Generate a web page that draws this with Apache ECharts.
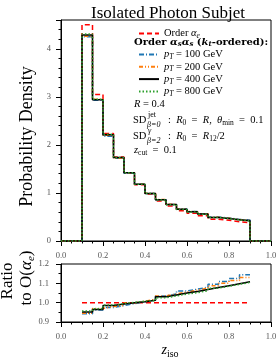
<!DOCTYPE html>
<html><head><meta charset="utf-8">
<script src="https://cdn.jsdelivr.net/npm/echarts@6/dist/echarts.min.js"></script>
<style>html,body{margin:0;padding:0;background:#fff}#c{width:280px;height:360px}</style>
</head><body><div id="c"></div>
<script>
// ---- data ----
const binEdges = [0.10,0.15,0.20,0.25,0.30,0.35,0.40,0.45,0.50,0.55,0.60,0.65,0.70,0.75,0.80,0.85,0.90];
const xTicks = [0.0,0.2,0.4,0.6,0.8,1.0];
const seriesNames = ['Order αe','pT = 100 GeV','pT = 200 GeV','pT = 400 GeV','pT = 800 GeV'];
const densOrderAe = [4.50,3.05,2.24,1.75,1.42,1.17,0.98,0.835,0.73,0.63,0.577,0.524,0.455,0.432,0.40,0.379];
const densPt100  = [4.25,2.93,2.18,1.72,1.41,1.18,0.99,0.86,0.76,0.665,0.615,0.565,0.50,0.48,0.45,0.435];
const densPt200  = [4.26,2.95,2.20,1.72,1.42,1.18,0.995,0.865,0.765,0.665,0.615,0.565,0.495,0.475,0.445,0.43];
const densPt400  = [4.29,2.94,2.21,1.74,1.42,1.18,0.99,0.86,0.76,0.66,0.61,0.56,0.49,0.47,0.44,0.42];
const densPt800  = [4.31,2.95,2.22,1.74,1.42,1.18,0.99,0.855,0.755,0.655,0.605,0.555,0.49,0.468,0.438,0.418];
const ratioOrderAe = [1,1,1,1,1,1,1,1,1,1,1,1,1,1,1,1];
const ratioPt100 = [0.943,0.962,0.975,0.985,0.995,1.005,1.015,1.035,1.045,1.06,1.07,1.08,1.095,1.11,1.125,1.145];
const ratioPt200 = [0.945,0.970,0.980,0.985,0.998,1.008,1.018,1.035,1.045,1.055,1.065,1.075,1.088,1.10,1.115,1.13];
const ratioPt400 = [0.952,0.965,0.985,0.993,1.000,1.005,1.012,1.030,1.040,1.050,1.058,1.068,1.078,1.088,1.098,1.108];
const ratioPt800 = [0.957,0.968,0.988,0.995,1.002,1.008,1.010,1.025,1.035,1.045,1.052,1.062,1.075,1.085,1.095,1.105];

// ---- helpers ----
const FONT = 'Liberation Serif';
function stepMain(vals){
  const d = [[0,0]];
  vals.forEach((v,i)=>d.push([binEdges[i], v]));
  d.push([binEdges[binEdges.length-1], vals[vals.length-1]]);
  d.push([binEdges[binEdges.length-1], 0]);
  d.push([1, 0]);
  return d;
}
function stepRatio(vals){
  const d = [];
  vals.forEach((v,i)=>d.push([binEdges[i], v]));
  d.push([binEdges[binEdges.length-1], vals[vals.length-1]]);
  return d;
}
const styles = [
  {color:'#ff0000', type:[5,3], width:1.5},
  {color:'#1f77b4', type:[5,2,1,2], width:1.5},
  {color:'#ff7f0e', type:[4,2,1,2,1,2], width:1.5},
  {color:'#000000', type:'solid', width:1.5},
  {color:'#2ca02c', type:[1.5,2], width:1.5}
];
const mainVals = [densOrderAe,densPt100,densPt200,densPt400,densPt800];
const ratioVals = [ratioOrderAe,ratioPt100,ratioPt200,ratioPt400,ratioPt800];

const series = [];
mainVals.forEach((v,i)=>series.push({
  name: seriesNames[i], type:'line', step:'end', xAxisIndex:0, yAxisIndex:0,
  data: stepMain(v), symbol:'none', lineStyle: styles[i], color: styles[i].color, animation:false
}));
ratioVals.forEach((v,i)=>series.push({
  name: seriesNames[i]+' r', type:'line', step:'end', xAxisIndex:1, yAxisIndex:2,
  data: stepRatio(v), symbol:'none', lineStyle: styles[i], color: styles[i].color, animation:false
}));

const FS = 10.5;
const baseText = {fontFamily:FONT, fontSize:FS, color:'#000'};
const rich = {
  t:{fontFamily:FONT, fontSize:FS, color:'#000'},
  i:{fontFamily:FONT, fontSize:FS, fontStyle:'italic', color:'#000'},
  s:{fontFamily:FONT, fontSize:7.5, fontStyle:'italic', color:'#000', padding:[5,0,0,0]},
  sn:{fontFamily:FONT, fontSize:7.5, color:'#000', padding:[5,0,0,0]},
  b:{fontFamily:'DejaVu Serif', fontSize:10, fontWeight:'bold', color:'#000'},
  bi:{fontFamily:'DejaVu Serif', fontSize:10, fontWeight:'bold', fontStyle:'italic', color:'#000'},
  bs:{fontFamily:'DejaVu Serif', fontSize:7, fontWeight:'bold', fontStyle:'italic', color:'#000', padding:[5,0,0,0]}
};
function legendFmt(name){
  if(name==='Order αe') return '{t|Order }{i|α}{s|e}';
  const m = name.match(/= (\d+) GeV/);
  return '{i|p}{s|T}{t| = '+m[1]+' GeV}';
}
function xLab(v){ return xTicks.some(t=>Math.abs(t-v)<1e-6) ? v.toFixed(1) : ''; }
function intLab(v){ return Math.abs(v-Math.round(v))<1e-6 ? String(Math.round(v)) : ''; }

const axisLineStyle = {color:'#000', width:1};
const labStyle = {fontFamily:FONT, fontSize:8.5, color:'#555'};
const legendCommon = {orient:'vertical', itemWidth:20, itemHeight:10,
  formatter:legendFmt, textStyle:{...baseText, rich:rich},
  itemStyle:{opacity:0, borderWidth:0}, inactiveColor:'#000'};

const option = {
  animation:false,
  title:{text:'Isolated Photon Subjet', left:86, top:0,
    textStyle:{fontFamily:FONT, fontSize:17, fontWeight:'normal', color:'#000'}},
  grid:[
    {left:61, right:9, top:20, height:221, show:true, borderColor:'#000', borderWidth:1, backgroundColor:'transparent'},
    {left:61, right:9, top:264, height:58, show:true, borderColor:'#000', borderWidth:1, backgroundColor:'transparent'}
  ],
  xAxis:[
    {type:'value', gridIndex:0, min:0, max:1, interval:0.2,
     axisLine:{show:true, onZero:false, lineStyle:axisLineStyle},
     axisTick:{show:true, length:5, lineStyle:axisLineStyle},
     minorTick:{show:true, splitNumber:4, length:2.5, lineStyle:{color:'#000'}},
     axisLabel:{...labStyle, margin:10, formatter:xLab},
     splitLine:{show:false}},
    {type:'value', gridIndex:1, min:0, max:1, interval:0.2,
     axisLine:{show:true, onZero:false, lineStyle:axisLineStyle},
     axisTick:{show:true, length:5, lineStyle:axisLineStyle},
     minorTick:{show:true, splitNumber:4, length:2.5, lineStyle:{color:'#000'}},
     axisLabel:{...labStyle, margin:10, formatter:xLab},
     splitLine:{show:false},
     name:'{i|z}{sn|iso}', nameLocation:'middle', nameGap:20,
     nameTextStyle:{padding:[0,0,0,8], rich:{i:{fontFamily:FONT,fontSize:14,fontStyle:'italic',color:'#000'},
                          sn:{fontFamily:FONT,fontSize:10,color:'#000',padding:[7,0,0,0]}}}}
  ],
  yAxis:[
    {type:'value', gridIndex:0, position:'left', min:0, max:4.6, interval:1,
     axisLine:{show:true, onZero:false, lineStyle:axisLineStyle},
     axisTick:{show:true, length:5, lineStyle:axisLineStyle},
     axisLabel:{...labStyle, margin:10, formatter:intLab},
     splitLine:{show:false},
     name:'Probability Density', nameLocation:'middle', nameGap:17,
     nameTextStyle:{fontFamily:FONT, fontSize:18, color:'#000', padding:[0,12,0,0]}},
    {type:'value', gridIndex:0, position:'left', offset:0, min:0, max:4.6, interval:0.2,
     axisLine:{show:false}, axisTick:{show:true, length:2.5, lineStyle:{color:'#000'}},
     axisLabel:{show:false}, splitLine:{show:false}},
    {type:'value', gridIndex:1, position:'left', min:0.9, max:1.2, interval:0.1,
     axisLine:{show:true, onZero:false, lineStyle:axisLineStyle},
     axisTick:{show:true, length:5, lineStyle:axisLineStyle},
     minorTick:{show:true, splitNumber:2, length:2.5, lineStyle:{color:'#000'}},
     axisLabel:{...labStyle, margin:12, formatter:v=>v.toFixed(1)},
     splitLine:{show:false}}
  ],
  legend:[
    {...legendCommon, data:[seriesNames[0]], left:133, top:23, itemGap:2},
    {...legendCommon, data:seriesNames.slice(1), left:133, top:44, itemGap:0.3}
  ],
  graphic:[
    {type:'text', left:134, top:37, style:{text:'{b|Order }{bi|α}{bs|s}{bi|α}{bs|s}{b| (}{bi|k}{bs|t}{b|-ordered):}', rich:rich}},
    {type:'text', left:134, top:99, style:{text:'{i|R}{t| = 0.4}', rich:rich}},
    {type:'text', left:133, top:115, style:{text:'{t|SD}', rich:rich}},
    {type:'text', left:148, top:111, style:{text:'jet', fontFamily:FONT, fontSize:8, fill:'#000'}},
    {type:'text', left:147, top:121, style:{text:'β=0', fontFamily:FONT, fontSize:8, fill:'#000', fontStyle:'italic'}},
    {type:'text', left:168, top:115, style:{text:'{t|:  }{i|R}{sn|0}{t|  =  }{i|R}{t|,  }{i|θ}{sn|min}{t|  =  0.1}', rich:rich}},
    {type:'text', left:133, top:131, style:{text:'{t|SD}', rich:rich}},
    {type:'text', left:148, top:127, style:{text:'γ', fontFamily:FONT, fontSize:8, fill:'#000', fontStyle:'italic'}},
    {type:'text', left:147, top:137, style:{text:'β=2', fontFamily:FONT, fontSize:8, fill:'#000', fontStyle:'italic'}},
    {type:'text', left:168, top:131, style:{text:'{t|:  }{i|R}{sn|0}{t|  =  }{i|R}{sn|12}{t|/2}', rich:rich}},
    {type:'text', left:134, top:145, style:{text:'{i|z}{sn|cut}{t|  =  0.1}', rich:rich}},
    {type:'text', x:8, y:281, rotation:Math.PI/2, style:{text:'Ratio', fontFamily:FONT, fontSize:17, fill:'#000', align:'center', verticalAlign:'middle'}},
    {type:'text', x:27, y:278, rotation:Math.PI/2, style:{text:'{n|to }{n|O(}{i|α}{s|e}{n|)}', align:'center', verticalAlign:'middle',
      rich:{n:{fontFamily:FONT,fontSize:17,color:'#000'}, i:{fontFamily:FONT,fontSize:17,fontStyle:'italic',color:'#000'},
            s:{fontFamily:FONT,fontSize:11,fontStyle:'italic',color:'#000',padding:[8,0,0,0]}}}}
  ],
  series: series
};
const chart = echarts.init(document.getElementById('c'), null, {renderer:'canvas'});
chart.setOption(option);
</script></body></html>
